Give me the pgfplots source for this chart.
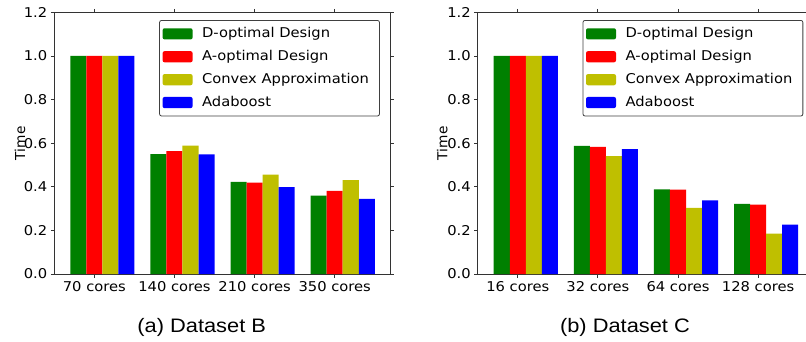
\documentclass[border=0pt]{standalone}
\usepackage{fontspec}
\setmainfont{DejaVu Sans}[FakeStretch=1.09]
\newfontfamily\labfont{DejaVu Sans}
\newfontfamily\capfont{Liberation Sans}[FakeStretch=1.12]
\usepackage{pgfplots}
\usepackage{pgfplotstable}
\pgfplotsset{compat=1.18}

\definecolor{mgreen}{rgb}{0,0.5,0}
\definecolor{mred}{rgb}{1,0,0}
\definecolor{myellow}{rgb}{0.75,0.75,0}
\definecolor{mblue}{rgb}{0,0,1}

% normalised running time, dataset B
\pgfplotstableread{
x  dopt  aopt  conv  ada
0  1.000 1.000 1.000 1.000
1  0.550 0.563 0.589 0.548
2  0.422 0.419 0.456 0.398
3  0.359 0.381 0.431 0.344
}\dataB

% normalised running time, dataset C
\pgfplotstableread{
x  dopt  aopt  conv  ada
0  1.000 1.000 1.000 1.000
1  0.587 0.583 0.541 0.573
2  0.388 0.387 0.303 0.338
3  0.321 0.318 0.185 0.226
}\dataC

\newcommand{\tickfont}{\fontsize{13.5}{16}\selectfont}

\pgfplotsset{
  coresaxis/.style={
    scale only axis,
    anchor=south west,
    height=261.7pt,
    width=335.7pt,
    xmin=-0.5, xmax=3.69,
    ymin=0, ymax=1.2,
    ytick={0,0.2,...,1.2},
    xtick={0,1,2,3},
    tick align=outside,
    major tick length=3.5pt,
    tick style={black!80, line width=0.8pt},
    axis line style={black!80, line width=0.8pt},
    ticklabel style={font=\tickfont},
    yticklabel style={/pgf/number format/.cd, fixed, fixed zerofill, precision=1, assume math mode=true},
    xticklabel style={anchor=base, yshift=-14pt},
    bar width=0.2,
    ybar,
    legend cell align=left,
    legend image code/.code={\fill[##1] (0pt,-5.6pt) rectangle (30pt,5.6pt);},
    legend style={
      font=\tickfont,
      draw=black!75,
      fill=white,
      rounded corners=2pt,
      line width=0.8pt,
      inner xsep=3pt, inner ysep=2pt,
      row sep=0pt,
      /tikz/every odd column/.append style={column sep=2pt},
      nodes={inner xsep=7.5pt, inner ysep=5.4pt, text height=9.8pt, text depth=2.3pt},
      at={(0.3095,1)},
      xshift=1pt,
      yshift=-7.7pt,
      anchor=north west,
    },
  },
}

\begin{document}
\begin{tikzpicture}
\useasboundingbox (0pt,0pt) rectangle (806pt,341pt);
\clip (0pt,0pt) rectangle (806pt,341pt);

\begin{axis}[coresaxis,
  at={(54.3pt,67pt)},
  xticklabels={70 cores,140 cores,210 cores,350 cores},
]
\addplot[fill=mgreen, draw=none, bar shift=-0.2] table[x=x, y=dopt] {\dataB};
\addplot[fill=mred, draw=none, bar shift=0] table[x=x, y=aopt] {\dataB};
\addplot[fill=myellow, draw=none, bar shift=0.2] table[x=x, y=conv] {\dataB};
\addplot[fill=mblue, draw=none, bar shift=0.4] table[x=x, y=ada] {\dataB};
\legend{D-optimal Design, A-optimal Design, Convex Approximation, Adaboost}
\end{axis}

\begin{axis}[coresaxis,
  at={(477.7pt,67pt)},
  xticklabels={16 cores,32 cores,64 cores,128 cores},
]
\addplot[fill=mgreen, draw=none, bar shift=-0.2] table[x=x, y=dopt] {\dataC};
\addplot[fill=mred, draw=none, bar shift=0] table[x=x, y=aopt] {\dataC};
\addplot[fill=myellow, draw=none, bar shift=0.2] table[x=x, y=conv] {\dataC};
\addplot[fill=mblue, draw=none, bar shift=0.4] table[x=x, y=ada] {\dataC};
\legend{D-optimal Design, A-optimal Design, Convex Approximation, Adaboost}
\end{axis}

\node[rotate=90, anchor=base, font=\labfont\fontsize{13.7}{16}\selectfont] at (25pt,197.7pt) {Time};
\node[rotate=90, anchor=base, font=\labfont\fontsize{13.7}{16}\selectfont] at (447.3pt,197.7pt) {Time};

\node[anchor=base, font=\capfont\fontsize{19.5}{22}\selectfont] at (201.7pt,8.3pt) {(a) Dataset B};
\node[anchor=base, font=\capfont\fontsize{19.5}{22}\selectfont] at (625pt,8.3pt) {(b) Dataset C};
\end{tikzpicture}
\end{document}
